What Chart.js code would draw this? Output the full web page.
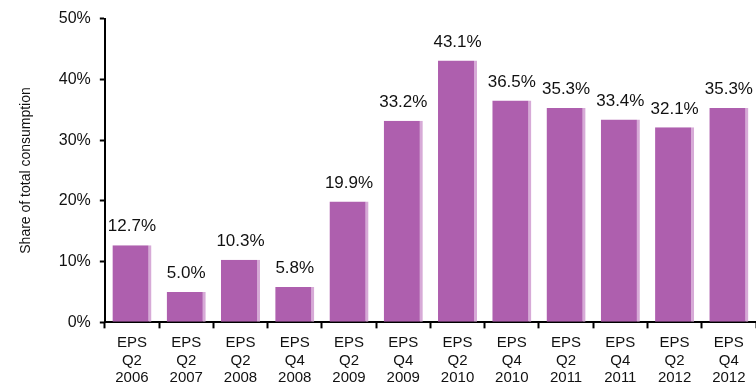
<!DOCTYPE html>
<html>
<head>
<meta charset="utf-8">
<script src="https://cdn.jsdelivr.net/npm/chart.js@4.4.1/dist/chart.umd.min.js"></script>
<style>
  html, body { margin: 0; padding: 0; background: #fff; }
  #wrap { width: 756px; height: 387px; position: relative; }
</style>
</head>
<body>
<div id="wrap"><canvas id="chart"></canvas></div>
<script>
// categories (multi-line tick labels)
const categories = [
  ["EPS", "Q2", "2006"], ["EPS", "Q2", "2007"], ["EPS", "Q2", "2008"], ["EPS", "Q4", "2008"],
  ["EPS", "Q2", "2009"], ["EPS", "Q4", "2009"], ["EPS", "Q2", "2010"], ["EPS", "Q4", "2010"],
  ["EPS", "Q2", "2011"], ["EPS", "Q4", "2011"], ["EPS", "Q2", "2012"], ["EPS", "Q4", "2012"]
];
const shareValues = [12.7, 5.0, 10.3, 5.8, 19.9, 33.2, 43.1, 36.5, 35.3, 33.4, 32.1, 35.3];
const yTicks = [0, 10, 20, 30, 40, 50];

const FONT = "'Liberation Sans', Arial, sans-serif";

// draws the value above each bar
const valueLabels = {
  id: "valueLabels",
  afterDatasetsDraw(chart) {
    const ctx = chart.ctx;
    const meta = chart.getDatasetMeta(0);
    ctx.save();
    ctx.font = "17px " + FONT;
    ctx.fillStyle = "#111";
    ctx.textAlign = "center";
    ctx.textBaseline = "bottom";
    meta.data.forEach((bar, i) => {
      ctx.fillText(shareValues[i].toFixed(1) + "%", bar.x, bar.y - 10);
    });
    ctx.restore();
  }
};

new Chart(document.getElementById("chart"), {
  type: "bar",
  data: {
    labels: categories,
    datasets: [{
      data: shareValues,
      backgroundColor: "#ae5fae",
      borderColor: "#d7aad7",
      borderWidth: { top: 0, left: 0, bottom: 0, right: 3 },
      borderSkipped: false,
      categoryPercentage: 0.72,
      barPercentage: 1
    }]
  },
  options: {
    responsive: true,
    maintainAspectRatio: false,
    animation: false,
    layout: { padding: { top: 4, right: 0, left: 18, bottom: -6 } },
    plugins: { legend: { display: false }, tooltip: { enabled: false } },
    scales: {
      x: {
        grid: { drawOnChartArea: false, tickLength: 6, tickColor: "#000", tickWidth: 2, offset: true },
        border: { color: "#000", width: 2 },
        ticks: {
          color: "#111",
          font: { family: FONT, size: 15, lineHeight: 1.17 },
          padding: 6,
          maxRotation: 0,
          autoSkip: false
        }
      },
      y: {
        min: yTicks[0],
        max: yTicks[yTicks.length - 1],
        afterBuildTicks(axis) { axis.ticks = yTicks.map(v => ({ value: v })); },
        grid: { drawOnChartArea: false, tickLength: 5, tickColor: "#000", tickWidth: 2 },
        border: { color: "#000", width: 2 },
        ticks: {
          color: "#111",
          font: { family: FONT, size: 16 },
          padding: 9,
          callback: v => v + "%"
        },
        title: {
          display: true,
          text: "Share of total consumption",
          color: "#111",
          font: { family: FONT, size: 14 },
          padding: { top: 0, bottom: 15 }
        }
      }
    }
  },
  plugins: [valueLabels]
});
</script>
</body>
</html>
